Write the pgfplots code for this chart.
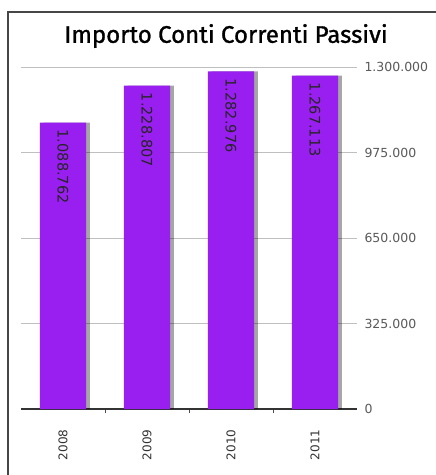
\documentclass[border=0pt]{standalone}
\usepackage{fontspec}
\setmainfont{DejaVu Sans}
\newfontfamily\titlefont[FakeBold=1.2]{Fira Sans}
\usepackage{pgfplots}
\pgfplotsset{compat=1.18}
\definecolor{barpurple}{RGB}{153,31,240}
\definecolor{framegray}{RGB}{70,70,70}
\begin{document}
\begin{tikzpicture}[x=1pt,y=1pt]
\useasboundingbox (0,0) rectangle (436,475);
\draw[framegray, line width=1.3pt] (8,0) -- (8,463) -- (436,463);
\node[font=\titlefont\fontsize{24}{28}\selectfont, text=black] at (226,439) {Importo Conti Correnti Passivi};
\begin{axis}[
  at={(21pt,66pt)}, anchor=south west, scale only axis,
  width=336pt, height=342pt,
  xmin=-0.5, xmax=3.5, ymin=0, ymax=1300000,
  scaled y ticks=false,
  axis x line*=bottom, axis y line*=right,
  y axis line style={draw=none},
  x axis line style={draw=black!80, line width=1.2pt},
  major tick length=0pt, minor tick length=4pt,
  tick align=outside,
  xtick={0,1,2,3}, xticklabels={2008,2009,2010,2011},
  minor xtick={0.5,1.5,2.5},
  minor tick style={draw=black!70, line width=0.8pt},
  xticklabel style={rotate=90, anchor=east, font=\fontsize{12}{14}\selectfont, text=black!80},
  xticklabel shift=17pt,
  ytick={0,325000,650000,975000,1300000},
  yticklabels={0,325.000,650.000,975.000,1.300.000},
  yticklabel style={font=\fontsize{12.5}{15}\selectfont, text=black!65, anchor=west},
  yticklabel shift=4pt,
  ymajorgrids, grid style={black!25, line width=0.8pt},
  /pgf/number format/assume math mode=true,
  clip=false,
]
\addplot[ybar, bar width=0.55, bar shift=0.045, fill=black, draw=none, opacity=0.35, forget plot]
  coordinates {(0,1088762) (1,1228807) (2,1282976) (3,1267113)};
\addplot[ybar, bar width=0.55, bar shift=0, fill=barpurple, draw=none,
  point meta=explicit symbolic, nodes near coords,
  every node near coord/.append style={rotate=-90, anchor=west, font=\fontsize{14.5}{17}\selectfont, text=black!85, inner xsep=7pt}]
  coordinates {(0,1088762) [1.088.762] (1,1228807) [1.228.807] (2,1282976) [1.282.976] (3,1267113) [1.267.113]};
\end{axis}
\end{tikzpicture}
\end{document}
